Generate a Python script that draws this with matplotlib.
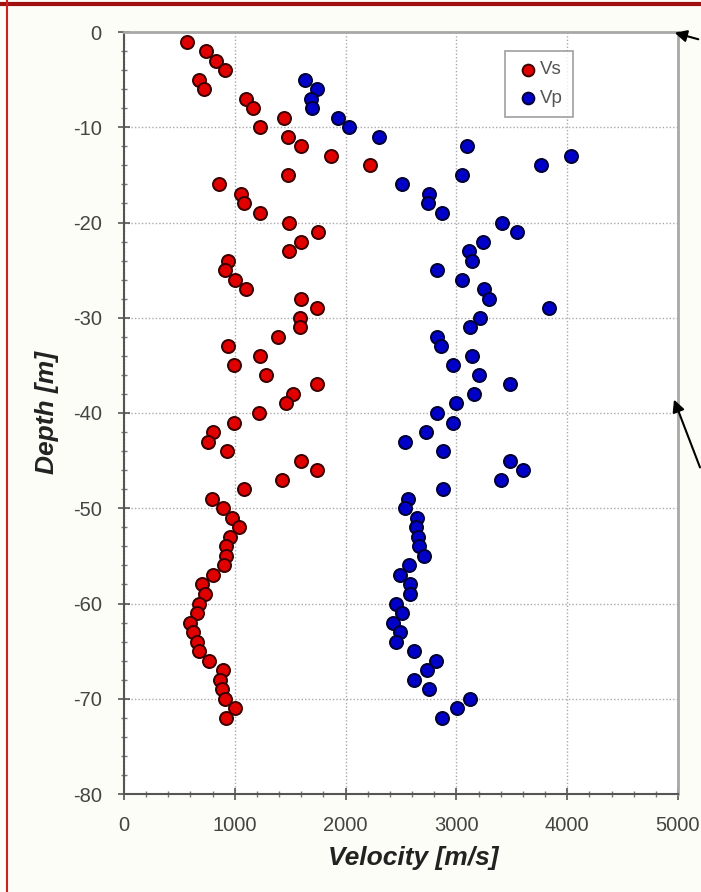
import matplotlib
matplotlib.use('Agg')
import matplotlib.pyplot as plt
from matplotlib.lines import Line2D

# Vs readings, one per metre from 1 to 72 m
vs_depth = list(range(-1, -73, -1))
vs_vel = [570, 738, 826, 916, 674, 719, 1104, 1164, 1441, 1226,
          1480, 1600, 1868, 2220, 1480, 853, 1059, 1083, 1226, 1486,
          1748, 1600, 1486, 937, 913, 1003, 1098, 1596, 1743, 1585,
          1585, 1391, 937, 1224, 997, 1283, 1746, 1525, 1462, 1218,
          997, 800, 761, 928, 1594, 1743, 1426, 1083, 791, 889,
          973, 1039, 955, 919, 919, 907, 800, 701, 731, 680,
          660, 600, 620, 656, 674, 770, 889, 868, 883, 913,
          1000, 925]

# Vp readings from 5 to 72 m
vp_depth = list(range(-5, -73, -1))
vp_vel = [1630, 1740, 1686, 1701, 1934, 2030, 2301, 3098, 4031, 3760,
          3050, 2510, 2755, 2743, 2874, 3411, 3543, 3244, 3113, 3145,
          2823, 3050, 3250, 3292, 3832, 3217, 3127, 2823, 2865, 3140,
          2970, 3208, 3483, 3160, 2996, 2823, 2970, 2722, 2534, 2883,
          3483, 3602, 3402, 2880, 2560, 2536, 2641, 2635, 2650, 2665,
          2704, 2575, 2495, 2581, 2581, 2456, 2510, 2426, 2492, 2456,
          2614, 2814, 2731, 2620, 2757, 3122, 3008, 2868]

plt.rcParams['font.family'] = ['Liberation Sans', 'DejaVu Sans']
plt.rcParams['axes.unicode_minus'] = False

fig = plt.figure(figsize=(7.01, 8.92), dpi=100, facecolor='#fdfdf7')
ax = fig.add_axes([124 / 701, 1 - 794 / 892, 554 / 701, 762 / 892])
ax.set_facecolor('white')

ax.scatter(vs_vel, vs_depth, s=88, c='#e00000', edgecolors='#3a0000',
           linewidths=1.4, label='Vs', zorder=3)
ax.scatter(vp_vel, vp_depth, s=88, c='#0000c8', edgecolors='#000033',
           linewidths=1.4, label='Vp', zorder=3)

ax.set_xlim(0, 5000)
ax.set_ylim(-80, 0)
ax.set_xticks(range(0, 5001, 1000))
ax.set_yticks(range(-80, 1, 10))
ax.set_xticks(range(0, 5001, 200), minor=True)
ax.set_yticks(range(-80, 1, 2), minor=True)
ax.tick_params(which='major', direction='inout', length=8, width=1.2,
               color='#555555', labelsize=14.5, labelcolor='#444444')
ax.tick_params(axis='x', which='major', pad=12)
ax.tick_params(axis='y', which='major', pad=12)
ax.tick_params(which='minor', direction='inout', length=5, width=1,
               color='#777777')
ax.grid(True, which='major', linestyle=(0, (1, 1.5)), color='#aaaaaa',
        linewidth=1, zorder=0)

for side in ['left', 'bottom']:
    ax.spines[side].set_color('#555555')
    ax.spines[side].set_linewidth(1.5)
for side in ['top', 'right']:
    ax.spines[side].set_color('#a8a8a8')
    ax.spines[side].set_linewidth(2)

ax.set_xlabel('Velocity [m/s]', fontsize=19, fontweight='bold',
              fontstyle='italic', color='#222222')
ax.xaxis.set_label_coords(0.522, -0.068)
ax.set_ylabel('Depth [m]', fontsize=19, fontweight='bold',
              fontstyle='italic', color='#222222', labelpad=10)

leg = ax.legend(loc='upper left', bbox_to_anchor=(0.688, 0.975),
                fontsize=13.5, frameon=True, fancybox=False,
                handletextpad=0.0, borderpad=0.55, labelspacing=0.6,
                handlelength=1.3, borderaxespad=0, markerscale=0.9)
leg.get_frame().set_edgecolor('#888888')
leg.get_frame().set_linewidth(1.2)
for t in leg.get_texts():
    t.set_color('#555555')

# red frame at top and left of the picture
fig.add_artist(Line2D([0, 1], [1 - 4 / 892, 1 - 4 / 892], color='#a01010',
                      linewidth=3, transform=fig.transFigure))
fig.add_artist(Line2D([7 / 701, 7 / 701], [0, 1], color='#cc2020',
                      linewidth=1.5, transform=fig.transFigure))

# arrows at the right edge
fig.add_artist(plt.Annotation('', xy=(672 / 701, 1 - 32 / 892),
                              xytext=(701 / 701, 1 - 40 / 892),
                              xycoords='figure fraction',
                              arrowprops=dict(arrowstyle='-|>', color='black',
                                              lw=1.5, mutation_scale=18)))
fig.add_artist(plt.Annotation('', xy=(673 / 701, 1 - 397 / 892),
                              xytext=(701 / 701, 1 - 470 / 892),
                              xycoords='figure fraction',
                              arrowprops=dict(arrowstyle='-|>', color='black',
                                              lw=1.5, mutation_scale=18)))

fig.savefig('out.png', dpi=100, facecolor=fig.get_facecolor())
